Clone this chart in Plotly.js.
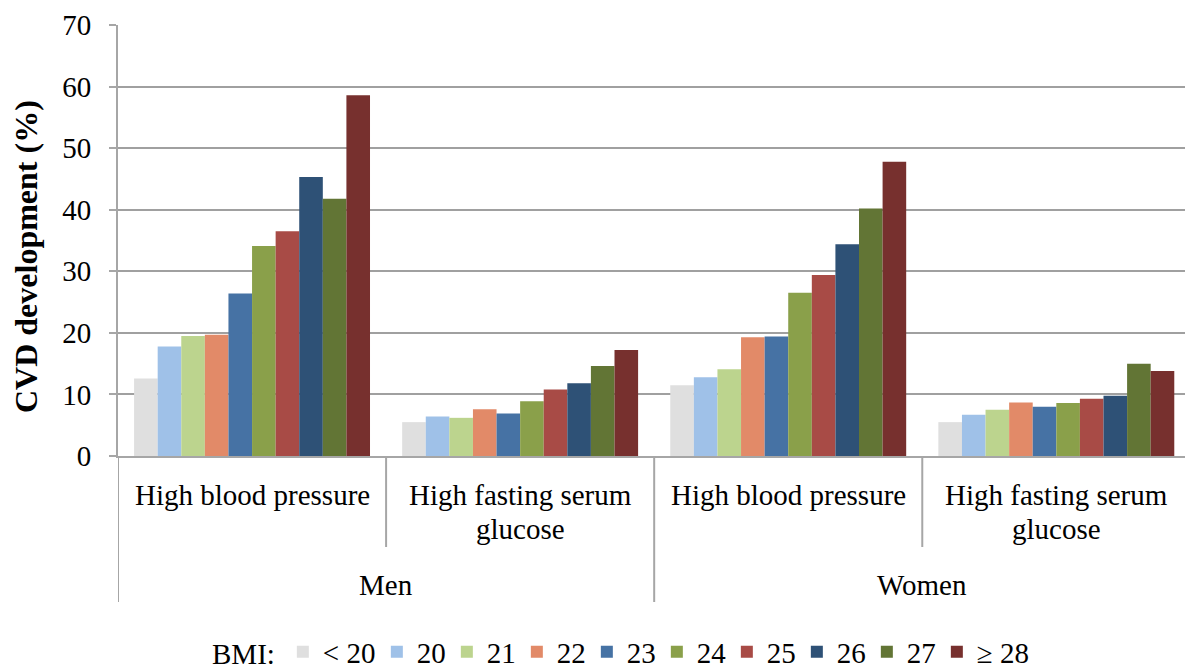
<!DOCTYPE html>
<html>
<head>
<meta charset="utf-8">
<script src="https://cdn.plot.ly/plotly-3.0.1.min.js"></script>
<style>
  html, body { margin: 0; padding: 0; background: #ffffff; }
  #chart { width: 1185px; height: 672px; }
</style>
</head>
<body>
<div id="chart"></div>
<script>
// Groups along the x axis: sex (outer level) and risk factor (inner level)
const sexes = ["Men", "Men", "Women", "Women"];
const measures = ["High blood pressure", "High fasting serum glucose",
                  "High blood pressure", "High fasting serum glucose"];
const measureLines = [["High blood pressure"], ["High fasting serum", "glucose"],
                      ["High blood pressure"], ["High fasting serum", "glucose"]];
const outerGroups = ["Men", "Women"];

// BMI categories (one series each)
const bmiLabels = ["< 20", "20", "21", "22", "23", "24", "25", "26", "27", "\u2265 28"];
const bmiColors = ["#dfdfdf", "#9fc1e8", "#bcd48e", "#e28a68", "#4672a4",
                   "#8aa04a", "#a84b46", "#2e5176", "#627535", "#77302e"];

// CVD development (%) per BMI category, in group order:
// Men HBP, Men HFSG, Women HBP, Women HFSG
const bmiUnder20 = [12.6, 5.5, 11.5, 5.5];
const bmi20      = [17.8, 6.4, 12.8, 6.7];
const bmi21      = [19.5, 6.2, 14.1, 7.5];
const bmi22      = [19.7, 7.6, 19.3, 8.7];
const bmi23      = [26.4, 6.9, 19.4, 8.0];
const bmi24      = [34.1, 8.9, 26.5, 8.6];
const bmi25      = [36.5, 10.8, 29.4, 9.3];
const bmi26      = [45.3, 11.8, 34.4, 9.8];
const bmi27      = [41.8, 14.6, 40.2, 15.0];
const bmi28plus  = [58.6, 17.2, 47.8, 13.8];
const seriesValues = [bmiUnder20, bmi20, bmi21, bmi22, bmi23,
                      bmi24, bmi25, bmi26, bmi27, bmi28plus];

const yTicks = [0, 10, 20, 30, 40, 50, 60, 70];
const yTitle = "CVD development (%)";

const FONT = "Liberation Serif, Times New Roman, serif";
const AXIS_GRAY = "#a6a6a6";

const groupKeys = sexes.map((s, i) => s + " / " + measures[i]);

// Legend entry widths: the first and last labels are wider than the rest
const entryWidth = k => (k === 0 ? 49 : (k === bmiLabels.length - 1 ? 60 : 25));

const traces = seriesValues.map((vals, k) => ({
  type: "bar",
  name: bmiLabels[k],
  x: groupKeys,
  y: vals,
  marker: { color: bmiColors[k], line: { width: 0 } },
  legendwidth: entryWidth(k),
  hoverinfo: "skip"
}));

// Plot area in pixels, used to place labels around the axes
const plotLeft = 118, plotTop = 25, plotBottom = 456, plotH = plotBottom - plotTop;
const plotW = 1185 - plotLeft;
const py = p => (plotBottom - p) / plotH;  // pixel row -> paper y
const px = p => (p - plotLeft) / plotW;    // pixel column -> paper x

const annotations = [];
measureLines.forEach((lines, i) => {
  lines.forEach((line, j) => {
    annotations.push({
      xref: "x", yref: "paper", x: i, y: py(495 + j * 34),
      text: line, showarrow: false, xanchor: "center", yanchor: "middle",
      font: { family: FONT, size: 29, color: "#000" }
    });
  });
});
outerGroups.forEach((g, i) => {
  annotations.push({
    xref: "x", yref: "paper", x: 0.5 + 2 * i, y: py(585),
    text: g, showarrow: false, xanchor: "center", yanchor: "middle",
    font: { family: FONT, size: 29, color: "#000" }
  });
});
// Rotated y-axis title
annotations.push({
  xref: "paper", yref: "paper", x: px(26), y: py(257),
  text: "<b>" + yTitle + "</b>", textangle: -90, showarrow: false,
  xanchor: "center", yanchor: "middle",
  font: { family: FONT, size: 32, color: "#000" }
});

// Category dividers below the axis: long ones between sexes, short ones within
const shapes = [];
[-0.5, 0.5, 1.5, 2.5].forEach((xv, i) => {
  shapes.push({
    type: "line", xref: "x", yref: "paper",
    x0: xv, x1: xv, y0: 0, y1: py(i % 2 === 0 ? 602 : 547),
    line: { color: AXIS_GRAY, width: 2 }
  });
});

const layout = {
  width: 1185, height: 672,
  margin: { l: plotLeft, r: 0, t: plotTop, b: 672 - plotBottom, pad: 0, autoexpand: false },
  paper_bgcolor: "#ffffff", plot_bgcolor: "#ffffff",
  barmode: "group", bargap: 0.12, bargroupgap: 0,
  showlegend: true,
  font: { family: FONT, size: 29, color: "#000" },
  xaxis: {
    type: "category",
    range: [-0.5, 3.48],
    showticklabels: false, ticks: "",
    showgrid: false, zeroline: false,
    showline: true, linecolor: AXIS_GRAY, linewidth: 2,
    fixedrange: true
  },
  yaxis: {
    range: [0, 70],
    tickvals: yTicks, ticktext: yTicks.map(String),
    ticks: "outside", ticklen: 7, tickcolor: AXIS_GRAY, tickwidth: 2,
    ticklabelstandoff: 12,
    showline: true, linecolor: AXIS_GRAY, linewidth: 2,
    showgrid: true, gridcolor: "#a0a0a0", gridwidth: 2,
    zeroline: false,
    tickfont: { family: FONT, size: 29, color: "#000" },
    automargin: false,
    fixedrange: true
  },
  legend: {
    orientation: "h",
    x: px(210), xanchor: "left",
    y: py(652), yanchor: "middle",
    title: { text: "BMI:", side: "left", font: { family: FONT, size: 29 } },
    font: { family: FONT, size: 29, color: "#000" },
    itemwidth: 30,
    borderwidth: 0,
    traceorder: "normal",
    bgcolor: "rgba(0,0,0,0)"
  },
  annotations: annotations,
  shapes: shapes
};

Plotly.newPlot("chart", traces, layout, { displayModeBar: false, staticPlot: true });
</script>
</body>
</html>
